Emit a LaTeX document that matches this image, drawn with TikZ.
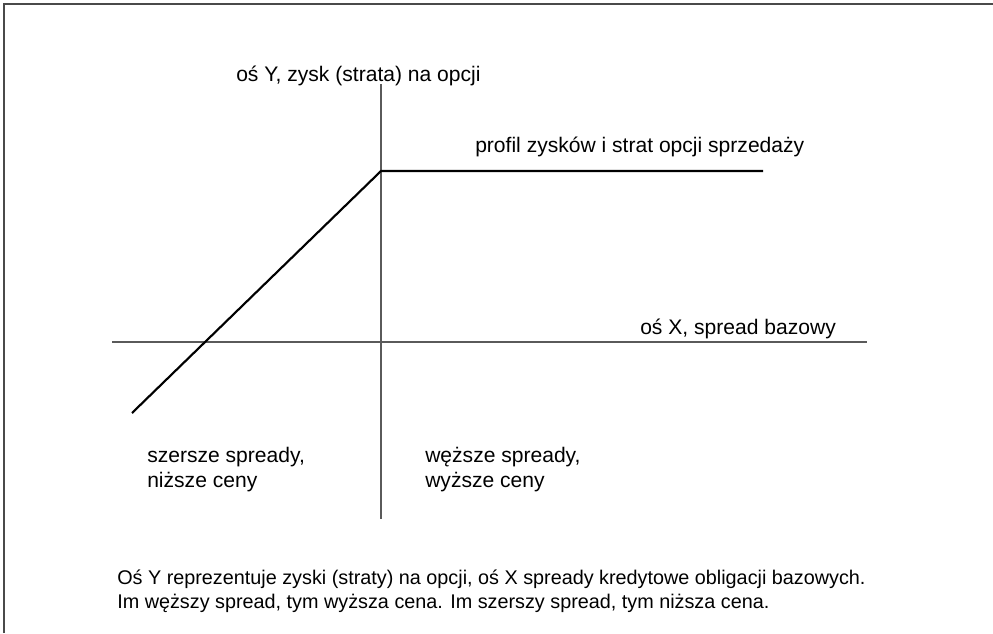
\documentclass[tikz,border=0pt]{standalone}
\usepackage{fontspec}
\setmainfont{Liberation Sans}
\usetikzlibrary{positioning}
\definecolor{axisgray}{HTML}{5A5A5A}
\definecolor{framegray}{HTML}{4A4A4A}
\tikzset{
  axisline/.style={draw=axisgray,line width=1.3pt},
  profileline/.style={draw=black,line width=1.6pt},
  lbl/.style={anchor=base west,inner sep=0pt,font=\fontsize{15.8}{19}\selectfont},
  notetext/.style={lbl,font=\fontsize{14.85}{18}\selectfont}
}
\begin{document}
\begin{tikzpicture}[x=0.75pt,y=-0.75pt]
\useasboundingbox(0,0)rectangle(993,633);

% frame
\coordinate(fa)at(4,633);
\coordinate(fb)at(4,4);
\coordinate(fc)at(993,4);
\draw[framegray,line width=1.5pt](fa)--(fb)--(fc);

% axes
\coordinate(ytop)at(381,84);
\coordinate(ybot)at(381,519);
\coordinate(xleft)at(112,342);
\coordinate(xright)at(867,342);
\draw[axisline](ytop)--(ybot);
\draw[axisline](xleft)--(xright);

% profile
\coordinate(pstart)at(132,413);
\coordinate(pkink)at(381,171);
\coordinate(pend)at(763,171);
\draw[profileline,line join=miter](pstart)--(pkink)--(pend);

\node[lbl](ylabel)at(236,81){oś Y, zysk (strata) na opcji};
\node[lbl](plabel)at(475,152){profil zysków i strat opcji sprzedaży};
\node[lbl](xlabel)at(640,334){oś X, spread bazowy};
\node[lbl](wide1)at(147,462){szersze spready,};
\node[lbl](wide2)at(147,487){niższe ceny};
\node[lbl](narrow1)at(425,462){węższe spready,};
\node[lbl](narrow2)at(425,487){wyższe ceny};
\node[notetext](note1)at(117,584){Oś Y reprezentuje zyski (straty) na opcji, oś X spready kredytowe obligacji bazowych.};
\node[notetext](note2)at(117,608){Im węższy spread, tym wyższa cena. Im szerszy spread, tym niższa cena.};

\end{tikzpicture}
\end{document}
